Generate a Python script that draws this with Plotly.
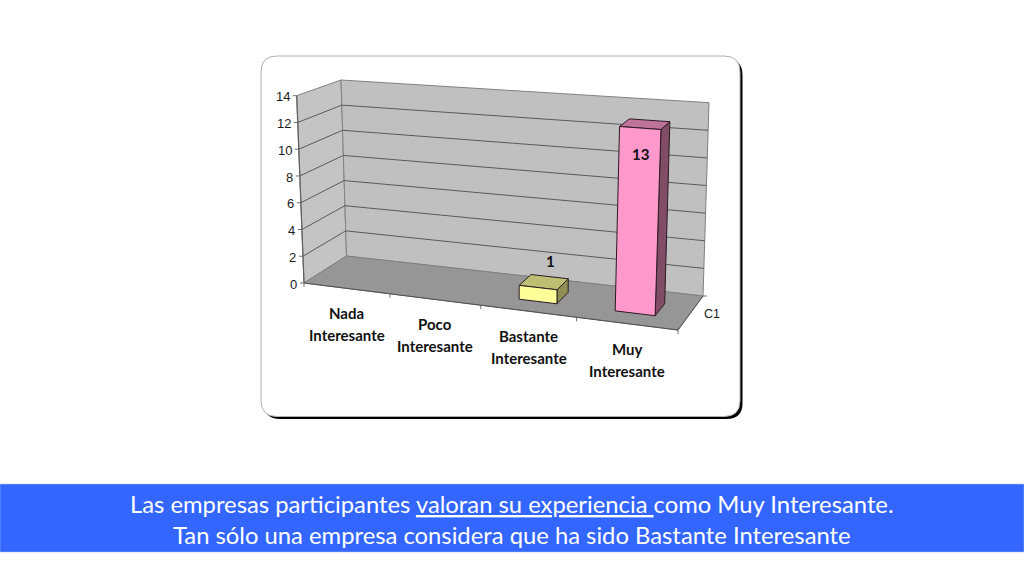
import plotly.graph_objects as go

# ---- datos ----
categories = [("Nada", "Interesante"), ("Poco", "Interesante"), ("Bastante", "Interesante"), ("Muy", "Interesante")]
values = [0, 0, 1, 13]
value_ticks = [0, 2, 4, 6, 8, 10, 12, 14]
series_name = "C1"
caption_1 = "Las empresas participantes <u>valoran su experiencia\u00a0</u>como Muy Interesante."
caption_2 = "Tan sólo una empresa considera que ha sido Bastante Interesante"

# colores de cada barra: frente, techo, lateral
bar_colors = [
    ("#FFCC99", "#BF9973", "#80664D"),
    ("#CCFFCC", "#99BF99", "#668066"),
    ("#FFFF99", "#BFBF73", "#8F8F55"),
    ("#FF99CC", "#BF7399", "#804C66"),
]

# ---- proyeccion 3D -> pixel (esquinas) ----
V_MAX = 14
FL0, FR0, BL0, BR0 = (304, 283), (678, 330), (346.5, 256), (703, 296)
FL1, FR1, BL1, BR1 = (296.7, 95.7), (686, 124), (341, 80), (709, 102.7)
PERSP = -0.104


def project(s, v, d):
    # s: 0-1 a lo largo de las categorias, v: valor, d: 0 delante, 1 fondo
    t = (1 + PERSP) * s / (1 + PERSP * s)
    h = v / V_MAX
    out = []
    for k in (0, 1):
        low = (1 - d) * ((1 - t) * FL0[k] + t * FR0[k]) + d * ((1 - t) * BL0[k] + t * BR0[k])
        high = (1 - d) * ((1 - t) * FL1[k] + t * FR1[k]) + d * ((1 - t) * BL1[k] + t * BR1[k])
        out.append((1 - h) * low + h * high)
    return tuple(out)


fig = go.Figure()


def poly(points, fill, line="rgba(0,0,0,0)", width=1, name=None):
    xs = [p[0] for p in points] + [points[0][0]]
    ys = [p[1] for p in points] + [points[0][1]]
    fig.add_trace(go.Scatter(x=xs, y=ys, mode="lines", fill="toself", fillcolor=fill,
                             line=dict(color=line, width=width), hoverinfo="skip" if name is None else "name",
                             name=name or ""))


def seg(points, color, width=1):
    fig.add_trace(go.Scatter(x=[p[0] for p in points], y=[p[1] for p in points], mode="lines",
                             line=dict(color=color, width=width), hoverinfo="skip"))


def label(x, y, text, size, color="#1a1a1a", font="Liberation Sans", anchor="center"):
    fig.add_annotation(x=x, y=y, text=text, showarrow=False, xanchor=anchor, yanchor="middle",
                       font=dict(family=font, size=size, color=color))


# ---- paredes y suelo ----
poly([project(0, 0, 0), project(0, V_MAX, 0), project(0, V_MAX, 1), project(0, 0, 1)], "#C4C4C4", "#808080")
poly([project(0, 0, 1), project(0, V_MAX, 1), project(1, V_MAX, 1), project(1, 0, 1)], "#C0C0C0", "#808080")
poly([project(0, 0, 0), project(1, 0, 0), project(1, 0, 1), project(0, 0, 1)], "#969696", "#808080")

for v in value_ticks:
    if 0 < v < V_MAX:
        seg([project(0, v, 0), project(0, v, 1), project(1, v, 1)], "#5A5A5A")
    tx, ty = project(0, v, 0)
    seg([(tx - 4, ty), (tx, ty)], "#707070")
    label(tx - 5, ty + 1.2, str(v), 13, anchor="right")

seg([project(0, 0, 0), project(0, V_MAX, 0)], "#606060", 1.2)
seg([project(0, 0, 0), project(1, 0, 0), project(1, 0, 1)], "#505050")

# ---- marcas y etiquetas de categoria ----
n = len(categories)
for i in range(n + 1):
    tx, ty = project(i / n, 0, 0)
    seg([(tx, ty), (tx, ty + 4)], "#707070")

for i, lines in enumerate(categories):
    cx, cy = project((i + 0.5) / n, 0, 0)
    label(cx + 0.5, cy + 25, f"<b>{lines[0]}</b>", 15, font="Lato", color="#111111")
    label(cx + 0.5, cy + 47, f"<b>{lines[1]}</b>", 15, font="Lato", color="#111111")

tx, ty = project(1, 0, 1)
seg([(tx, ty), (tx + 4, ty)], "#707070")
label(tx + 9, ty + 18, series_name, 12.5)

# ---- barras ----
BAR_W, D0, D1 = 0.40 / n, 0.31, 0.67
label_offset = {2: (7, -21), 3: (-4, 30)}
for i, val in enumerate(values):
    if val == 0:
        continue
    s0 = (i + 0.5) / n - BAR_W / 2
    s1 = (i + 0.5) / n + BAR_W / 2
    front, top, side = bar_colors[i]
    edge = "#2A1A22"
    poly([project(s1, 0, D0), project(s1, val, D0), project(s1, val, D1), project(s1, 0, D1)], side, edge)
    poly([project(s0, val, D0), project(s1, val, D0), project(s1, val, D1), project(s0, val, D1)], top, edge)
    poly([project(s0, 0, D0), project(s1, 0, D0), project(s1, val, D0), project(s0, val, D0)], front, edge,
         name=f"{categories[i][0]} {categories[i][1]}: {val}")
    cx, cy = project((s0 + s1) / 2, val, (D0 + D1) / 2)
    dx, dy = label_offset[i]
    label(cx + dx, cy + dy, f"<b>{val}</b>", 15, font="Lato", color="#111111")

# ---- texto de la franja azul ----
label(511.5, 504.2, caption_1, 23.8, color="white", font="Lato")
label(511.5, 534.5, caption_2, 23.8, color="white", font="Lato")


def rounded(x0, y0, x1, y1, r):
    return (f"M{x0 + r},{y0} L{x1 - r},{y0} Q{x1},{y0} {x1},{y0 + r} L{x1},{y1 - r} Q{x1},{y1} {x1 - r},{y1} "
            f"L{x0 + r},{y1} Q{x0},{y1} {x0},{y1 - r} L{x0},{y0 + r} Q{x0},{y0} {x0 + r},{y0} Z")


fig.update_layout(
    width=1024, height=576, margin=dict(l=0, r=0, t=0, b=0),
    paper_bgcolor="white", plot_bgcolor="white", showlegend=False,
    xaxis=dict(visible=False, range=[0, 1024], fixedrange=True),
    yaxis=dict(visible=False, range=[576, 0], fixedrange=True),
    shapes=[
        dict(type="path", path=rounded(264, 59, 742.5, 419, 16), fillcolor="black", line_width=0, layer="below"),
        dict(type="path", path=rounded(261, 56, 740, 416.5, 16), fillcolor="white",
             line=dict(color="#B0B0B0", width=1), layer="below"),
        dict(type="rect", x0=0, x1=1024, y0=484, y1=552, fillcolor="#3366FF",
             line=dict(color="#A9C0FF", width=0.5), layer="below"),
    ],
)

# la pagina trae margen de 8 px en el body, lo quitamos
fig.write_html("out.html", config={"displayModeBar": False}, post_script="document.body.style.margin='0';")
